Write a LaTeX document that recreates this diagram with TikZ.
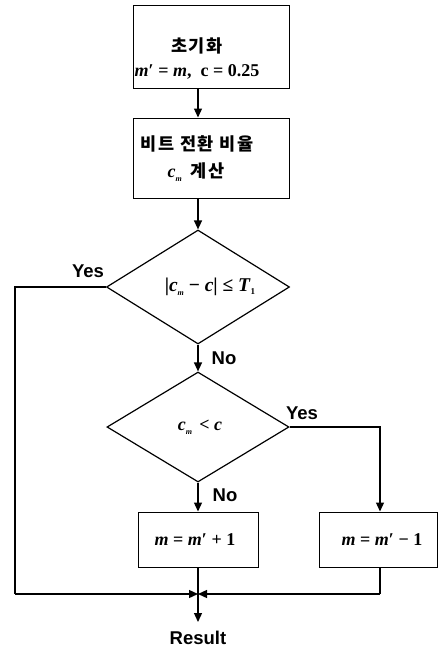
\documentclass[tikz,border=0pt]{standalone}
\usepackage{fontspec}
\setmainfont{Liberation Serif}
\setsansfont{Liberation Sans}
\newfontfamily\kr[LetterSpace=10]{Noto Sans CJK KR}
\usetikzlibrary{shapes.geometric,arrows.meta}
\tikzset{
  conn/.style={line width=1.3pt},
  arr/.style={conn,-{Triangle[length=9pt,width=8pt]}},
  procbox/.style={draw, line width=1pt, inner sep=0pt},
  decision/.style={draw, diamond, line width=1.2pt, inner sep=0pt},
  krtext/.style={font=\kr\bfseries\fontsize{17.5}{19}\selectfont, inner sep=0pt},
  mtext/.style={font=\bfseries\fontsize{18}{20}\selectfont, inner sep=0pt},
  yn/.style={font=\sffamily\bfseries\fontsize{18.5}{20}\selectfont, inner sep=0pt},
}
\newcommand{\vm}{\textit{m}}
\newcommand{\vc}{\textit{c}}
\newcommand{\subm}{\raisebox{-4pt}{\fontsize{8}{9}\selectfont\textit{m}}}
\begin{document}
\begin{tikzpicture}[x=1pt,y=-1pt]
\useasboundingbox (0,0) rectangle (441,648);
% boxes
\node[procbox, minimum width=156pt, minimum height=83pt] (b1) at (211,46.5) {};
\node[krtext] (t1a) at (197,46) {초기화};
\node[mtext] (t1b) at (197,72) {\vm′ = \vm, \ c = 0.25};
\node[procbox, minimum width=156pt, minimum height=80pt] (b2) at (211,158) {};
\node[krtext] (t2a) at (197,144) {비트 전환 비율};
\node[krtext] (t2b) at (196,172) {{\fontsize{18}{20}\selectfont\rmfamily\vc\subm}\, 계산};
% decisions
\node[decision, minimum width=183pt, minimum height=114pt] (d1) at (198,287) {};
\node[mtext, font=\bfseries\fontsize{19.5}{21}\selectfont] (t3) at (210,287) {|\vc\subm\ − \vc| ≤ \textit{T}\raisebox{-3pt}{\fontsize{9}{10}\selectfont 1}};
\node[decision, minimum width=182pt, minimum height=110pt] (d2) at (198,427) {};
\node[mtext] (t4) at (200,427) {\vc\subm\ \,< \vc};
% result boxes
\node[procbox, minimum width=120pt, minimum height=55pt] (b3) at (198,539.5) {};
\node[mtext] (t5) at (195,539.5) {\vm{} = \vm′ + 1};
\node[procbox, minimum width=118pt, minimum height=55pt] (b4) at (378,539.5) {};
\node[mtext] (t6) at (382,539.5) {\vm{} = \vm′ − 1};
\node[yn] (res) at (198,638) {Result};
% junction
\coordinate (j) at (198,594);
\coordinate (lc) at (15,594);
\coordinate (rc) at (380,594);
\coordinate (endarr) at (198,622);
% connectors
\draw[arr] (b1.south -| d1.north) -- (b2.north -| d1.north);
\draw[arr] (b2.south -| d1.north) -- (d1.north);
\draw[arr] (d1.south) -- (d2.north);
\draw[arr] (d2.south) -- (b3.north);
\draw[arr] (d2.east) -| (b4.north -| rc);
\draw[conn] (d1.west) -| (lc);
\draw[arr] (lc) -- (j);
\draw[conn] (b4.south -| rc) -- (rc);
\draw[arr] (rc) -- (j);
\draw[arr] (b3.south) -- (endarr);
% labels
\node[yn] (y1) at (88,271) {Yes};
\node[yn] (n1) at (224,358) {No};
\node[yn] (y2) at (302,413) {Yes};
\node[yn] (n2) at (225,495) {No};
\end{tikzpicture}
\end{document}
